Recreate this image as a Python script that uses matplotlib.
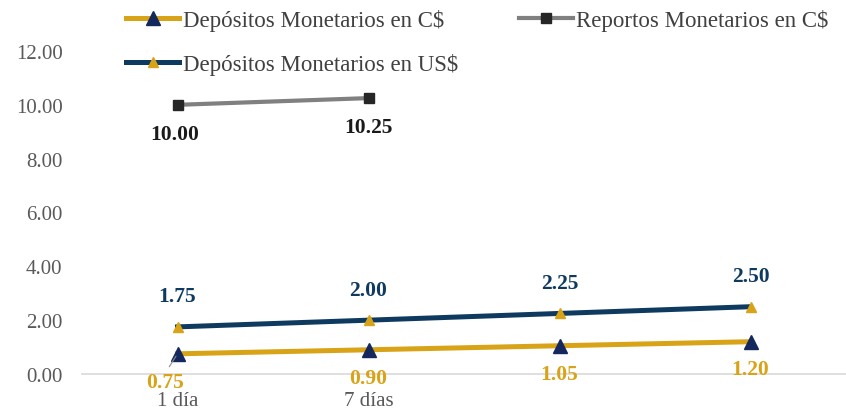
import numpy as np
import matplotlib.pyplot as plt

plt.rcParams['font.family'] = ['Liberation Serif', 'DejaVu Serif']

plazos = ['1 día', '7 días', '', '']
dep_cs = [0.75, 0.90, 1.05, 1.20]
dep_us = [1.75, 2.00, 2.25, 2.50]
reportos = [10.00, 10.25]

gold = '#D8A317'
navy = '#0F3A60'
dark_navy = '#14285E'
gray = '#808080'
tick_col = '#595959'

fig = plt.figure(figsize=(8.46, 4.10), dpi=100)
ax = fig.add_axes([82 / 846, 1 - 375 / 410, 764 / 846, 323 / 410])

x = np.arange(len(plazos))
x_rep = np.arange(len(reportos))

l1, = ax.plot(x, dep_cs, color=gold, lw=3.6, marker='^', markersize=10,
              markerfacecolor=dark_navy, markeredgecolor=dark_navy,
              label='Depósitos Monetarios en C$', zorder=3)
l3, = ax.plot(x_rep, reportos, color=gray, lw=3.0, marker='s', markersize=6.5,
              markerfacecolor='#262626', markeredgecolor='#262626',
              label='Reportos Monetarios en C$', zorder=3)
l2, = ax.plot(x, dep_us, color=navy, lw=3.6, marker='^', markersize=7,
              markerfacecolor=gold, markeredgecolor=gold,
              label='Depósitos Monetarios en US$', zorder=3)

lab_fs = 15.5
for i, v in enumerate(dep_cs):
    dx = -9 if i == 0 else 0
    ax.annotate(f'{v:.2f}', (i, v), xytext=(dx, -20), textcoords='offset points',
                ha='center', va='center', color=gold, fontsize=lab_fs, fontweight='bold')
ax.annotate('', (0, dep_cs[0]), xytext=(-7, -11), textcoords='offset points',
            arrowprops=dict(arrowstyle='-', color='#8C8C8C', lw=0.8))
for i, v in enumerate(dep_us):
    ax.annotate(f'{v:.2f}', (i, v), xytext=(0, 22), textcoords='offset points',
                ha='center', va='center', color=navy, fontsize=lab_fs, fontweight='bold')
for i, v in enumerate(reportos):
    ax.annotate(f'{v:.2f}', (i, v), xytext=(-2 if i == 0 else 0, -21),
                textcoords='offset points', ha='center', va='center',
                color='#1A1A1A', fontsize=lab_fs, fontweight='bold')

ax.set_xlim(-0.5, 3.5)
ax.set_ylim(0, 12)
ax.set_yticks(np.arange(0, 12.1, 2))
ax.set_yticklabels([f'{t:.2f}' for t in np.arange(0, 12.1, 2)])
ax.set_xticks(x)
ax.set_xticklabels(plazos)
ax.tick_params(axis='both', length=0, colors=tick_col, labelsize=15)
ax.tick_params(axis='y', pad=14)
ax.tick_params(axis='x', pad=12)
for s in ['top', 'right', 'left']:
    ax.spines[s].set_visible(False)
ax.spines['bottom'].set_color('#D9D9D9')
ax.spines['bottom'].set_linewidth(1.2)

fig.legend(handles=[l1, l2, l3], ncol=2, loc='upper left',
           bbox_to_anchor=(105 / 846, 1.025), frameon=False, fontsize=16.5,
           handlelength=2.35, handletextpad=0.15, columnspacing=2.65,
           labelspacing=0.95, labelcolor='#404040')

fig.savefig('out.png', dpi=100)
